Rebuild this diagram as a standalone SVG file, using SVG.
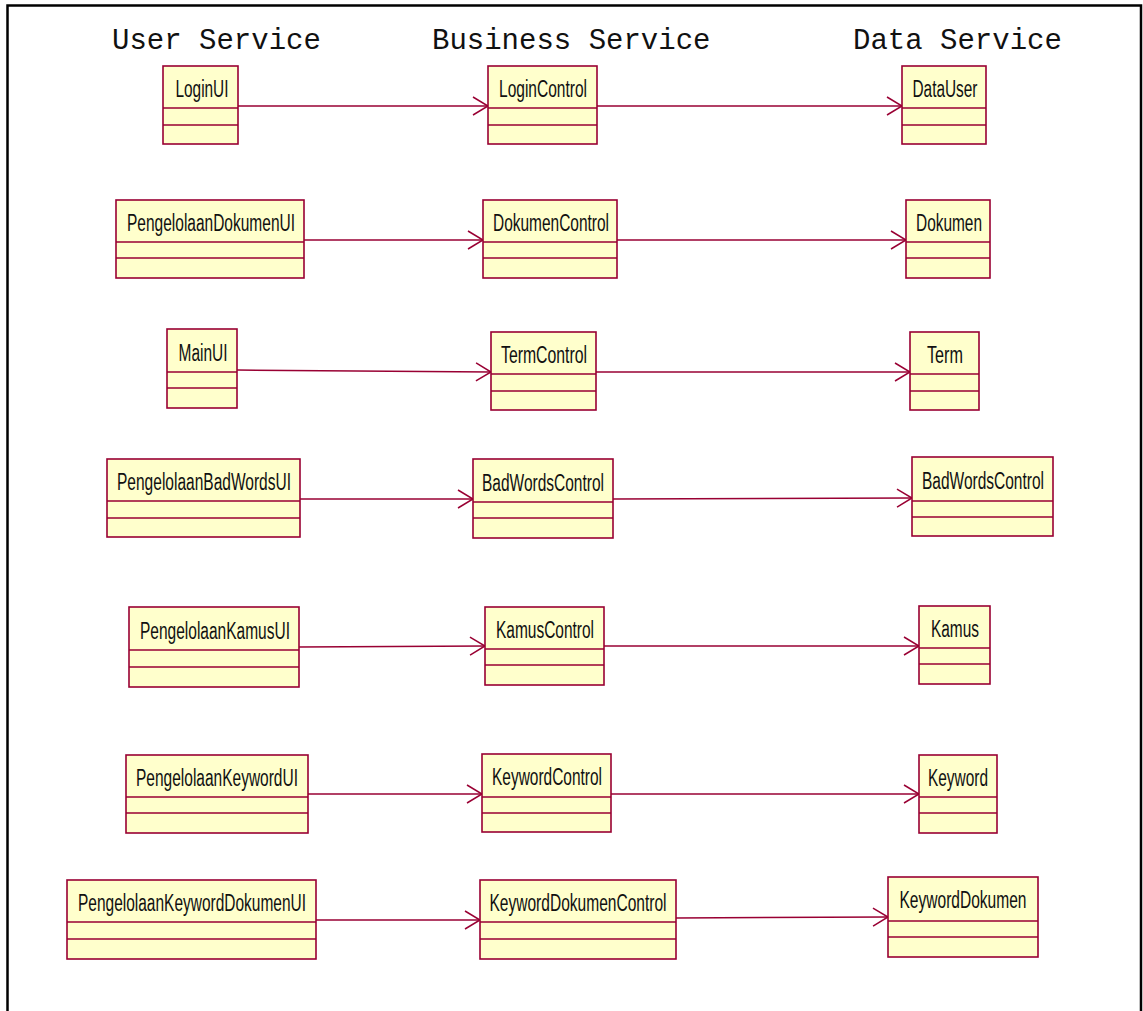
<svg xmlns="http://www.w3.org/2000/svg" width="1143" height="1011" viewBox="0 0 1143 1011">
<style>
.box{fill:#FFFFCC;stroke:#990033;stroke-width:1.6}
.div{stroke:#990033;stroke-width:1.4;fill:none}
.lbl{font-family:"Liberation Sans",Arial,sans-serif;font-size:23px;fill:#111;text-anchor:middle}
.title{font-family:"Liberation Mono","Courier New",monospace;font-size:29px;fill:#111}
.conn{stroke:#990033;stroke-width:1.5;fill:none}
</style>
<defs>
<marker id="open" markerUnits="userSpaceOnUse" markerWidth="20" markerHeight="22" refX="16" refY="10" orient="auto" viewBox="0 0 20 20">
<path d="M1,1 L16,10 L1,19" fill="none" stroke="#990033" stroke-width="1.5"/>
</marker>
</defs>
<rect width="1143" height="1011" fill="#fff"/>
<polyline points="7.5,1011 7.5,5.5 1141,5.5 1141,1011" fill="none" stroke="#000" stroke-width="2.5"/>
<text class="title" x="112" y="49">User Service</text>
<text class="title" x="432" y="49">Business Service</text>
<text class="title" x="853" y="49">Data Service</text>

<g id="connectors">
<line class="conn" x1="238" y1="106" x2="488" y2="106" marker-end="url(#open)"/>
<line class="conn" x1="597" y1="106" x2="902" y2="106" marker-end="url(#open)"/>
<line class="conn" x1="304" y1="240" x2="483" y2="240" marker-end="url(#open)"/>
<line class="conn" x1="617" y1="240" x2="906" y2="240" marker-end="url(#open)"/>
<line class="conn" x1="237" y1="370" x2="491" y2="372" marker-end="url(#open)"/>
<line class="conn" x1="596" y1="372" x2="910" y2="372" marker-end="url(#open)"/>
<line class="conn" x1="300" y1="499" x2="473" y2="499" marker-end="url(#open)"/>
<line class="conn" x1="613" y1="499" x2="912" y2="498" marker-end="url(#open)"/>
<line class="conn" x1="299" y1="647" x2="485" y2="646" marker-end="url(#open)"/>
<line class="conn" x1="604" y1="646" x2="919" y2="646" marker-end="url(#open)"/>
<line class="conn" x1="308" y1="794" x2="482" y2="794" marker-end="url(#open)"/>
<line class="conn" x1="611" y1="794" x2="919" y2="794" marker-end="url(#open)"/>
<line class="conn" x1="316" y1="920" x2="480" y2="920" marker-end="url(#open)"/>
<line class="conn" x1="676" y1="918" x2="888" y2="917" marker-end="url(#open)"/>
</g>

<g id="LoginUI"><rect class="box" x="163" y="66" width="75" height="78"/><path class="div" d="M163,108H238M163,125H238"/><text class="lbl" x="202" y="97" textLength="53" lengthAdjust="spacingAndGlyphs">LoginUI</text></g>
<g id="LoginControl"><rect class="box" x="488" y="66" width="109" height="78"/><path class="div" d="M488,108H597M488,125H597"/><text class="lbl" x="543" y="97" textLength="88" lengthAdjust="spacingAndGlyphs">LoginControl</text></g>
<g id="DataUser"><rect class="box" x="902" y="66" width="84" height="78"/><path class="div" d="M902,108H986M902,125H986"/><text class="lbl" x="945" y="97" textLength="65" lengthAdjust="spacingAndGlyphs">DataUser</text></g>

<g id="PengelolaanDokumenUI"><rect class="box" x="116" y="200" width="188" height="78"/><path class="div" d="M116,242H304M116,258H304"/><text class="lbl" x="211" y="231" textLength="168" lengthAdjust="spacingAndGlyphs">PengelolaanDokumenUI</text></g>
<g id="DokumenControl"><rect class="box" x="483" y="200" width="134" height="78"/><path class="div" d="M483,242H617M483,258H617"/><text class="lbl" x="551" y="231" textLength="116" lengthAdjust="spacingAndGlyphs">DokumenControl</text></g>
<g id="Dokumen"><rect class="box" x="906" y="200" width="84" height="78"/><path class="div" d="M906,242H990M906,258H990"/><text class="lbl" x="949" y="231" textLength="66" lengthAdjust="spacingAndGlyphs">Dokumen</text></g>

<g id="MainUI"><rect class="box" x="167" y="329" width="70" height="79"/><path class="div" d="M167,372H237M167,388H237"/><text class="lbl" x="203" y="361" textLength="49" lengthAdjust="spacingAndGlyphs">MainUI</text></g>
<g id="TermControl"><rect class="box" x="491" y="332" width="105" height="78"/><path class="div" d="M491,374H596M491,391H596"/><text class="lbl" x="544" y="363" textLength="86" lengthAdjust="spacingAndGlyphs">TermControl</text></g>
<g id="Term"><rect class="box" x="910" y="332" width="69" height="78"/><path class="div" d="M910,374H979M910,391H979"/><text class="lbl" x="945" y="363" textLength="36" lengthAdjust="spacingAndGlyphs">Term</text></g>

<g id="PengelolaanBadWordsUI"><rect class="box" x="107" y="459" width="193" height="78"/><path class="div" d="M107,501H300M107,518H300"/><text class="lbl" x="204" y="490" textLength="174" lengthAdjust="spacingAndGlyphs">PengelolaanBadWordsUI</text></g>
<g id="BadWordsControl"><rect class="box" x="473" y="459" width="140" height="79"/><path class="div" d="M473,502H613M473,518H613"/><text class="lbl" x="543" y="491" textLength="122" lengthAdjust="spacingAndGlyphs">BadWordsControl</text></g>
<g id="BadWordsControlData"><rect class="box" x="912" y="457" width="141" height="79"/><path class="div" d="M912,501H1053M912,517H1053"/><text class="lbl" x="983" y="489" textLength="122" lengthAdjust="spacingAndGlyphs">BadWordsControl</text></g>

<g id="PengelolaanKamusUI"><rect class="box" x="129" y="607" width="170" height="80"/><path class="div" d="M129,650H299M129,667H299"/><text class="lbl" x="215" y="639" textLength="150" lengthAdjust="spacingAndGlyphs">PengelolaanKamusUI</text></g>
<g id="KamusControl"><rect class="box" x="485" y="607" width="119" height="78"/><path class="div" d="M485,649H604M485,665H604"/><text class="lbl" x="545" y="638" textLength="98" lengthAdjust="spacingAndGlyphs">KamusControl</text></g>
<g id="Kamus"><rect class="box" x="919" y="606" width="71" height="78"/><path class="div" d="M919,648H990M919,664H990"/><text class="lbl" x="955" y="637" textLength="48" lengthAdjust="spacingAndGlyphs">Kamus</text></g>

<g id="PengelolaanKeywordUI"><rect class="box" x="126" y="755" width="182" height="78"/><path class="div" d="M126,797H308M126,813H308"/><text class="lbl" x="217" y="786" textLength="162" lengthAdjust="spacingAndGlyphs">PengelolaanKeywordUI</text></g>
<g id="KeywordControl"><rect class="box" x="482" y="754" width="129" height="78"/><path class="div" d="M482,797H611M482,813H611"/><text class="lbl" x="547" y="785" textLength="110" lengthAdjust="spacingAndGlyphs">KeywordControl</text></g>
<g id="Keyword"><rect class="box" x="919" y="755" width="78" height="78"/><path class="div" d="M919,797H997M919,813H997"/><text class="lbl" x="958" y="786" textLength="60" lengthAdjust="spacingAndGlyphs">Keyword</text></g>

<g id="PengelolaanKeywordDokumenUI"><rect class="box" x="67" y="880" width="249" height="79"/><path class="div" d="M67,922H316M67,939H316"/><text class="lbl" x="192" y="911" textLength="228" lengthAdjust="spacingAndGlyphs">PengelolaanKeywordDokumenUI</text></g>
<g id="KeywordDokumenControl"><rect class="box" x="480" y="880" width="196" height="79"/><path class="div" d="M480,922H676M480,939H676"/><text class="lbl" x="578" y="911" textLength="177" lengthAdjust="spacingAndGlyphs">KeywordDokumenControl</text></g>
<g id="KeywordDokumen"><rect class="box" x="888" y="877" width="150" height="80"/><path class="div" d="M888,921H1038M888,937H1038"/><text class="lbl" x="963" y="908" textLength="127" lengthAdjust="spacingAndGlyphs">KeywordDokumen</text></g>
</svg>
